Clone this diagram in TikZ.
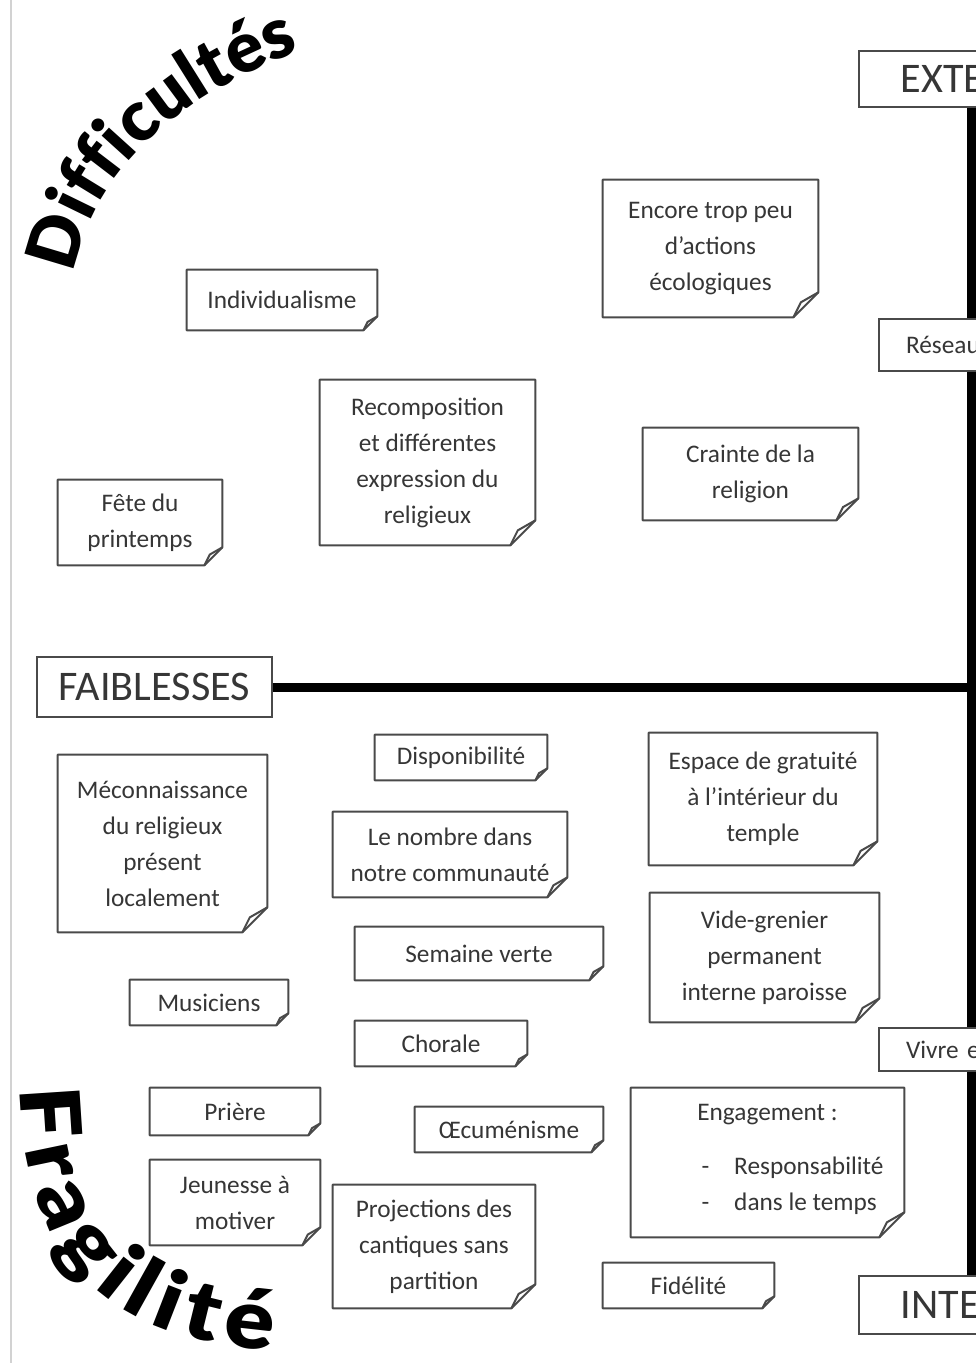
\documentclass[tikz,border=0pt]{standalone}
\usepackage{fontspec}
\setmainfont{Carlito}
\newfontfamily\heavyfont{Lato Black}
\newfontfamily\heavywide[FakeStretch=1.12]{Lato Black}
\usetikzlibrary{decorations.text}
\definecolor{txtgrey}{HTML}{363636}
\definecolor{edgegrey}{HTML}{4A4A4A}
\newcommand{\notefont}{\fontsize{14.4}{20.5}\selectfont}
\newcommand{\bigfont}{\fontsize{24}{28}\selectfont}
\tikzset{
  note/.style={font=\notefont, text=txtgrey, align=center, inner sep=0pt},
  noteline/.style={draw=edgegrey, line width=0.04cm, line join=round},
  headbox/.style={draw=edgegrey, line width=0.04cm, font=\bigfont, text=txtgrey, inner sep=0pt},
  sidebox/.style={draw=edgegrey, line width=0.04cm, text=txtgrey, anchor=north west, text width=3cm, align=left},
  axis/.style={line width=0.18cm, black}
}
\begin{document}
\begin{tikzpicture}[x=0.02cm, y=-0.02cm]
  \useasboundingbox (0,0) rectangle (976,1363);
  \clip (0,0) rectangle (976,1363);
  \fill[white] (0,0) rectangle (976,1363);
  \draw[gray!35, line width=0.04cm] (11,0) -- (11,1363);

  % titres courbes
  \path[decorate, decoration={text along path, text align=fit to path,
      text={|\heavyfont\fontsize{40}{40}\selectfont|Difficultés}}]
    (74,274) .. controls (92,168) and (185,92) .. (300,52);
  \path[decorate, decoration={text along path, text align=fit to path,
      text={|\heavywide\fontsize{47}{47}\selectfont|Fragilité}}]
    (20,1088) .. controls (22,1262) and (110,1340) .. (272,1350);

  % axes
  \node[headbox, minimum width=4.7cm, minimum height=1.2cm] (faib) at (154.5,687) {FAIBLESSES};
  \node[sidebox, font=\bigfont, inner xsep=0.84cm, minimum height=1.12cm] (exte) at (858,50) {EXTE};
  \node[sidebox, font=\notefont, inner xsep=0.54cm, minimum height=1.04cm] (reseau) at (878,318) {Réseau};
  \node[sidebox, font=\notefont, inner xsep=0.54cm, minimum height=0.86cm] (vivre) at (878,1027) {Vivre e};
  \node[sidebox, font=\bigfont, inner xsep=0.84cm, minimum height=1.16cm] (inte) at (858,1275) {INTE};
  \coordinate (vx) at (971,0);
  \coordinate (hx) at (990,687);
  \draw[axis] (exte.south -| vx) -- (reseau.north -| vx);
  \draw[axis] (reseau.south -| vx) -- (vivre.north -| vx);
  \draw[axis] (vivre.south -| vx) -- (inte.north -| vx);
  \draw[axis] (faib.east) -- (faib.east -| hx);

  % difficultes
  \node[note, minimum width=3.8cm, minimum height=1.2cm] (indiv) at (282,300) {Individualisme};
  \node[note, minimum width=4.3cm, minimum height=2.74cm] (encore) at (710.5,248.5) {Encore trop peu\\d’actions\\écologiques};
  \node[note, minimum width=4.3cm, minimum height=3.3cm] (recomp) at (427.5,462.5) {Recomposition\\et différentes\\expression du\\religieux};
  \node[note, minimum width=4.3cm, minimum height=1.84cm] (crainte) at (750.5,474) {Crainte de la\\religion};
  \node[note, minimum width=3.28cm, minimum height=1.7cm] (fete) at (140,522.5) {Fête du\\printemps};

  % faiblesses
  \node[note, minimum width=4.18cm, minimum height=3.54cm] (mecon) at (162.5,843.5) {Méconnaissance\\du religieux\\présent\\localement};
  \node[note, minimum width=3.44cm, minimum height=0.9cm] (dispo) at (461,757.5) {Disponibilité};
  \node[note, minimum width=4.68cm, minimum height=1.7cm] (nombre) at (450,854.5) {Le nombre dans\\notre communauté};
  \node[note, minimum width=4.56cm, minimum height=2.64cm] (espace) at (763,799) {Espace de gratuité\\à l’intérieur du\\temple};
  \node[note, minimum width=4.58cm, minimum height=2.58cm] (vide) at (764.5,957.5) {Vide-grenier\\permanent\\interne paroisse};
  \node[note, minimum width=4.96cm, minimum height=1.06cm] (semaine) at (479,953.5) {Semaine verte};
  \node[note, minimum width=3.16cm, minimum height=0.9cm] (musi) at (209,1002.5) {Musiciens};
  \node[note, minimum width=3.44cm, minimum height=0.9cm] (chorale) at (441,1043.5) {Chorale};
  \node[note, minimum width=3.4cm, minimum height=0.94cm] (priere) at (235,1111.5) {Prière};
  \node[note, minimum width=3.76cm, minimum height=0.9cm] (oecu) at (509,1129.5) {Œcuménisme};
  \node[note, minimum width=5.46cm, minimum height=2.98cm] (engag) at (767.5,1162.5)
    {Engagement :\\[0.45cm]\hspace*{1.0cm}\begin{tabular}{@{}l@{\hspace{0.5cm}}l@{}}-&Responsabilité\\-&dans le temps\end{tabular}};
  \node[note, minimum width=3.4cm, minimum height=1.7cm] (jeune) at (235,1202.5) {Jeunesse à\\motiver};
  \node[note, minimum width=4.04cm, minimum height=2.46cm] (proj) at (434,1246.5) {Projections des\\cantiques sans\\partition};
  \node[note, minimum width=3.42cm, minimum height=0.9cm] (fidel) at (688.5,1285.5) {Fidélité};

  % contours avec coin corne
  \foreach \n/\f in {indiv/14, encore/25, recomp/25, crainte/22, fete/18, mecon/25,
      dispo/12, nombre/20, espace/24, vide/24, semaine/14, musi/12, chorale/12,
      priere/12, oecu/12, engag/25, jeune/18, proj/24, fidel/12}{
    \draw[noteline] (\n.north west) -- (\n.north east) -- ([yshift=\f*0.02cm]\n.south east)
      -- ([xshift=-\f*0.02cm]\n.south east) -- (\n.south west) -- cycle;
    \draw[noteline] ([xshift=-\f*0.02cm]\n.south east) -- ([xshift=-0.7*\f*0.02cm, yshift=0.6*\f*0.02cm]\n.south east)
      -- ([yshift=\f*0.02cm]\n.south east);
  }
\end{tikzpicture}
\end{document}
